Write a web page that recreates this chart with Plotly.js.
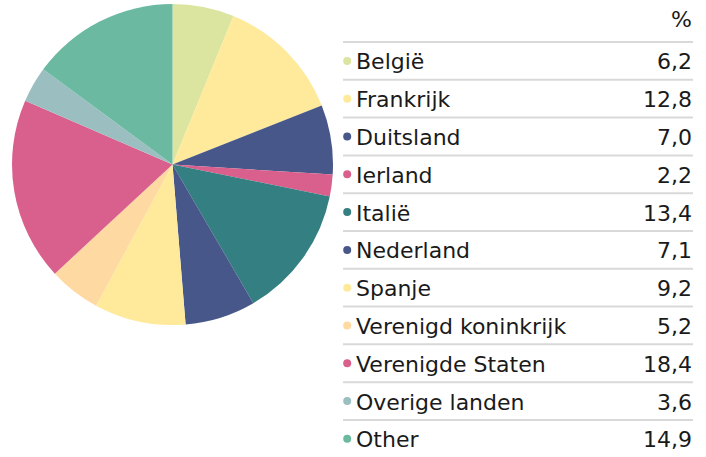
<!DOCTYPE html>
<html>
<head>
<meta charset="utf-8">
<script src="https://cdn.plot.ly/plotly-3.0.1.min.js"></script>
<style>html,body{margin:0;padding:0;background:#fff;}#chart{width:706px;height:457px;}</style>
</head>
<body>
<div id="chart"></div>
<script>
const categories = ["België", "Frankrijk", "Duitsland", "Ierland", "Italië", "Nederland", "Spanje", "Verenigd koninkrijk", "Verenigde Staten", "Overige landen", "Other"];
const values = [6.2, 12.8, 7.0, 2.2, 13.4, 7.1, 9.2, 5.2, 18.4, 3.6, 14.9];
const colors = ["#dce5a0", "#feea9a", "#475789", "#d95f8d", "#347f81", "#475789", "#feea9a", "#fed9a2", "#d95f8d", "#9bbfc0", "#6bb9a0"];
const unitLabel = "%";

const fmt = v => v.toFixed(1).replace('.', ',');
const rows = categories.map((_, i) => i);
const FONT = "DejaVu Sans, Verdana, sans-serif";
const W = 706, H = 457;

const pie = {
  type: 'pie',
  labels: categories,
  values: values,
  marker: {colors: colors, line: {width: 0}},
  sort: false,
  direction: 'clockwise',
  rotation: 0,
  textinfo: 'none',
  hoverinfo: 'label+value',
  showlegend: false,
  domain: {x: [12 / W, 333 / W], y: [1 - 325 / H, 1 - 4 / H]}
};

const dots = {
  type: 'scatter',
  mode: 'markers',
  x: rows.map(() => 0.012),
  y: rows,
  marker: {color: colors, size: 8},
  hoverinfo: 'skip',
  showlegend: false,
  xaxis: 'x', yaxis: 'y'
};

const annotations = [];
categories.forEach((c, i) => {
  annotations.push({xref: 'x', yref: 'y', x: 0.031, y: i, yshift: -1, text: c, showarrow: false,
    xanchor: 'left', yanchor: 'middle', font: {family: FONT, size: 22, color: '#1a1a1a'}});
  annotations.push({xref: 'x', yref: 'y', x: 1, xshift: 1, y: i, yshift: -1, text: fmt(values[i]), showarrow: false,
    xanchor: 'right', yanchor: 'middle', font: {family: FONT, size: 22, color: '#1a1a1a'}});
});
annotations.push({xref: 'x', yref: 'y', x: 1, xshift: 1, y: -1.1, text: unitLabel, showarrow: false,
  xanchor: 'right', yanchor: 'middle', font: {family: FONT, size: 22, color: '#1a1a1a'}});

const shapes = [];
for (let i = 0; i < categories.length; i++) {
  shapes.push({type: 'line', xref: 'x', yref: 'y', x0: 0, x1: 1, y0: i - 0.5, y1: i - 0.5,
    line: {color: '#d9d9d9', width: 2}});
}

const layout = {
  width: W, height: H,
  margin: {l: 0, r: 0, t: 0, b: 0, pad: 0},
  paper_bgcolor: '#ffffff', plot_bgcolor: 'rgba(0,0,0,0)',
  showlegend: false,
  xaxis: {domain: [343 / W, 693 / W], range: [0, 1], visible: false, fixedrange: true},
  yaxis: {domain: [1 - 450.2 / H, 1 - 4.2 / H], range: [10.3, -1.5], visible: false, fixedrange: true},
  annotations: annotations,
  shapes: shapes
};

Plotly.newPlot('chart', [pie, dots], layout, {displayModeBar: false, staticPlot: true});
</script>
</body>
</html>
